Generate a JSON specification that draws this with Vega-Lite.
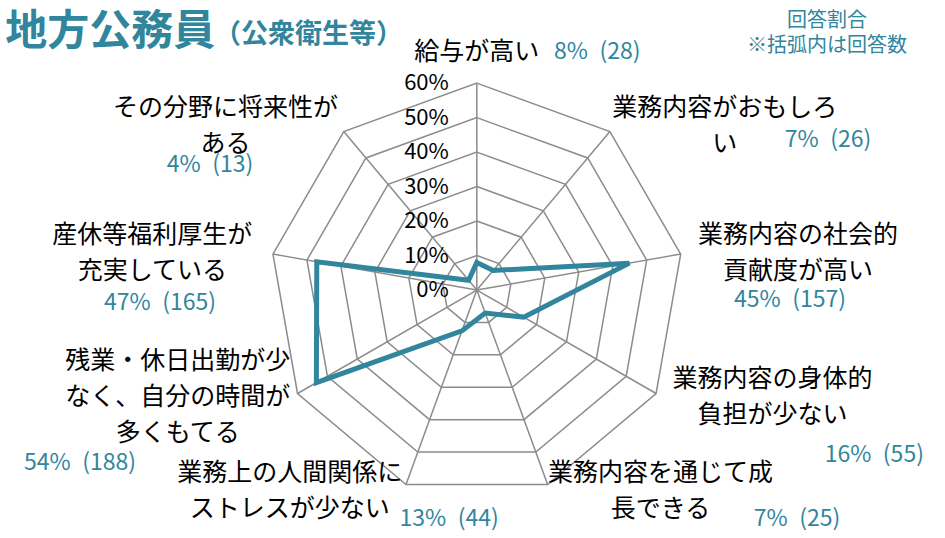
{
  "$schema": "https://vega.github.io/schema/vega-lite/v6.json",
  "width": 945,
  "height": 538,
  "autosize": {"type": "none"},
  "padding": 0,
  "background": "white",
  "config": {"view": {"stroke": null}, "text": {"font": "Noto Sans CJK JP"}},
  "datasets": {
    "answers": [
      {"i": 0, "name": "給与が高い", "share": 8.0, "pct": 8, "n": 28},
      {"i": 1, "name": "業務内容がおもしろ\nい", "share": 7.4, "pct": 7, "n": 26},
      {"i": 2, "name": "業務内容の社会的\n貢献度が高い", "share": 44.9, "pct": 45, "n": 157},
      {"i": 3, "name": "業務内容の身体的\n負担が少ない", "share": 15.7, "pct": 16, "n": 55},
      {"i": 4, "name": "業務内容を通じて成\n長できる", "share": 7.1, "pct": 7, "n": 25},
      {"i": 5, "name": "業務上の人間関係に\nストレスが少ない", "share": 12.6, "pct": 13, "n": 44},
      {"i": 6, "name": "残業・休日出勤が少\nなく、自分の時間が\n多くもてる", "share": 53.7, "pct": 54, "n": 188},
      {"i": 7, "name": "産休等福利厚生が\n充実している", "share": 47.1, "pct": 47, "n": 165},
      {"i": 8, "name": "その分野に将来性が\nある", "share": 3.7, "pct": 4, "n": 13}
    ],
    "grid": [
      {"k": 0, "levels": [10, 20, 30, 40, 50, 60]},
      {"k": 1, "levels": [10, 20, 30, 40, 50, 60]},
      {"k": 2, "levels": [10, 20, 30, 40, 50, 60]},
      {"k": 3, "levels": [10, 20, 30, 40, 50, 60]},
      {"k": 4, "levels": [10, 20, 30, 40, 50, 60]},
      {"k": 5, "levels": [10, 20, 30, 40, 50, 60]},
      {"k": 6, "levels": [10, 20, 30, 40, 50, 60]},
      {"k": 7, "levels": [10, 20, 30, 40, 50, 60]},
      {"k": 8, "levels": [10, 20, 30, 40, 50, 60]}
    ],
    "ticks": [{"t": 0}, {"t": 10}, {"t": 20}, {"t": 30}, {"t": 40}, {"t": 50}, {"t": 60}],
    "blank": [{}]
  },
  "layer": [
    {
      "data": {"name": "grid"},
      "transform": [
        {"flatten": ["levels"]},
        {"calculate": "datum.levels*sin(datum.k*2*PI/9)", "as": "gx"},
        {"calculate": "datum.levels*cos(datum.k*2*PI/9)", "as": "gy"}
      ],
      "mark": {"type": "line", "interpolate": "linear-closed", "color": "#8c8c8c", "strokeWidth": 1.5},
      "encoding": {
        "x": {"field": "gx", "type": "quantitative", "scale": {"domain": [-138.2, 135.7], "nice": false, "zero": false}, "axis": null},
        "y": {"field": "gy", "type": "quantitative", "scale": {"domain": [-71.9, 84.1], "nice": false, "zero": false}, "axis": null},
        "detail": {"field": "levels", "type": "nominal"},
        "order": {"field": "k", "type": "quantitative"}
      }
    },
    {
      "data": {"name": "answers"},
      "transform": [
        {"calculate": "60*sin(datum.i*2*PI/9)", "as": "sx"},
        {"calculate": "60*cos(datum.i*2*PI/9)", "as": "sy"}
      ],
      "mark": {"type": "rule", "color": "#8c8c8c", "strokeWidth": 1.5},
      "encoding": {
        "x": {"field": "sx", "type": "quantitative", "scale": {"domain": [-138.2, 135.7], "nice": false, "zero": false}, "axis": null},
        "y": {"field": "sy", "type": "quantitative", "scale": {"domain": [-71.9, 84.1], "nice": false, "zero": false}, "axis": null},
        "x2": {"datum": 0},
        "y2": {"datum": 0}
      }
    },
    {
      "data": {"name": "answers"},
      "transform": [
        {"calculate": "datum.share*sin(datum.i*2*PI/9)", "as": "px"},
        {"calculate": "datum.share*cos(datum.i*2*PI/9)", "as": "py"}
      ],
      "mark": {"type": "line", "interpolate": "linear-closed", "color": "#31859C", "strokeWidth": 5, "strokeJoin": "miter"},
      "encoding": {
        "x": {"field": "px", "type": "quantitative", "scale": {"domain": [-138.2, 135.7], "nice": false, "zero": false}, "axis": null},
        "y": {"field": "py", "type": "quantitative", "scale": {"domain": [-71.9, 84.1], "nice": false, "zero": false}, "axis": null},
        "order": {"field": "i", "type": "quantitative"}
      }
    },
    {
      "data": {"name": "ticks"},
      "transform": [{"calculate": "datum.t + '%'", "as": "lab"}],
      "mark": {"type": "text", "align": "right", "baseline": "middle", "dx": -28, "fontSize": 22, "color": "#000000"},
      "encoding": {
        "x": {"datum": 0, "type": "quantitative", "scale": {"domain": [-138.2, 135.7], "nice": false, "zero": false}, "axis": null},
        "y": {"field": "t", "type": "quantitative", "scale": {"domain": [-71.9, 84.1], "nice": false, "zero": false}, "axis": null},
        "text": {"field": "lab", "type": "nominal"}
      }
    },
    {
      "data": {"name": "answers"},
      "transform": [
        {"calculate": "sin(datum.i*2*PI/9)", "as": "s"},
        {"calculate": "length(split(datum.name, '\\n'))", "as": "nl"},
        {"calculate": "62*datum.s + (datum.s > 0.01 ? 32 : (datum.s < -0.01 ? -33 : 0))", "as": "nx"},
        {"calculate": "62*cos(datum.i*2*PI/9) + (datum.i == 0 ? 7 : 0) + (datum.nl - 1)*5.2", "as": "ny"}
      ],
      "mark": {"type": "text", "align": "center", "baseline": "middle", "lineBreak": "\n", "lineHeight": 36, "fontSize": 25, "color": "#000000"},
      "encoding": {
        "x": {"field": "nx", "type": "quantitative", "scale": {"domain": [-138.2, 135.7], "nice": false, "zero": false}, "axis": null},
        "y": {"field": "ny", "type": "quantitative", "scale": {"domain": [-71.9, 84.1], "nice": false, "zero": false}, "axis": null},
        "text": {"field": "name", "type": "nominal"}
      }
    },
    {
      "data": {"name": "answers"},
      "transform": [
        {"calculate": "[34.9, 101.8, 90.8, 115.2, 92.8, -8.0, -115.0, -91.8, -77.3][datum.i]", "as": "vx"},
        {"calculate": "[69.0, 43.5, -2.9, -47.8, -66.4, -66.4, -50.1, -3.8, 36.2][datum.i]", "as": "vy"},
        {"calculate": "datum.pct + '%\u2002(' + datum.n + ')'", "as": "lab"}
      ],
      "mark": {"type": "text", "align": "center", "baseline": "middle", "fontSize": 23, "color": "#31859C"},
      "encoding": {
        "x": {"field": "vx", "type": "quantitative", "scale": {"domain": [-138.2, 135.7], "nice": false, "zero": false}, "axis": null},
        "y": {"field": "vy", "type": "quantitative", "scale": {"domain": [-71.9, 84.1], "nice": false, "zero": false}, "axis": null},
        "text": {"field": "lab", "type": "nominal"}
      }
    },
    {
      "data": {"name": "blank"},
      "mark": {"type": "text", "text": "地方公務員", "align": "left", "baseline": "middle", "fontSize": 42, "fontWeight": "bold", "color": "#31859C"},
      "encoding": {
        "x": {"datum": -136.7, "type": "quantitative", "scale": {"domain": [-138.2, 135.7], "nice": false, "zero": false}, "axis": null},
        "y": {"datum": 74.8, "type": "quantitative", "scale": {"domain": [-71.9, 84.1], "nice": false, "zero": false}, "axis": null}
      }
    },
    {
      "data": {"name": "blank"},
      "mark": {"type": "text", "text": "（公衆衛生等）", "align": "left", "baseline": "middle", "fontSize": 27, "fontWeight": "bold", "color": "#31859C"},
      "encoding": {
        "x": {"datum": -76.2, "type": "quantitative", "scale": {"domain": [-138.2, 135.7], "nice": false, "zero": false}, "axis": null},
        "y": {"datum": 74.0, "type": "quantitative", "scale": {"domain": [-71.9, 84.1], "nice": false, "zero": false}, "axis": null}
      }
    },
    {
      "data": {"name": "blank"},
      "mark": {"type": "text", "text": "回答割合\n※括弧内は回答数", "lineBreak": "\n", "lineHeight": 25, "align": "center", "baseline": "middle", "fontSize": 20, "color": "#31859C"},
      "encoding": {
        "x": {"datum": 101.5, "type": "quantitative", "scale": {"domain": [-138.2, 135.7], "nice": false, "zero": false}, "axis": null},
        "y": {"datum": 78.0, "type": "quantitative", "scale": {"domain": [-71.9, 84.1], "nice": false, "zero": false}, "axis": null}
      }
    }
  ]
}
